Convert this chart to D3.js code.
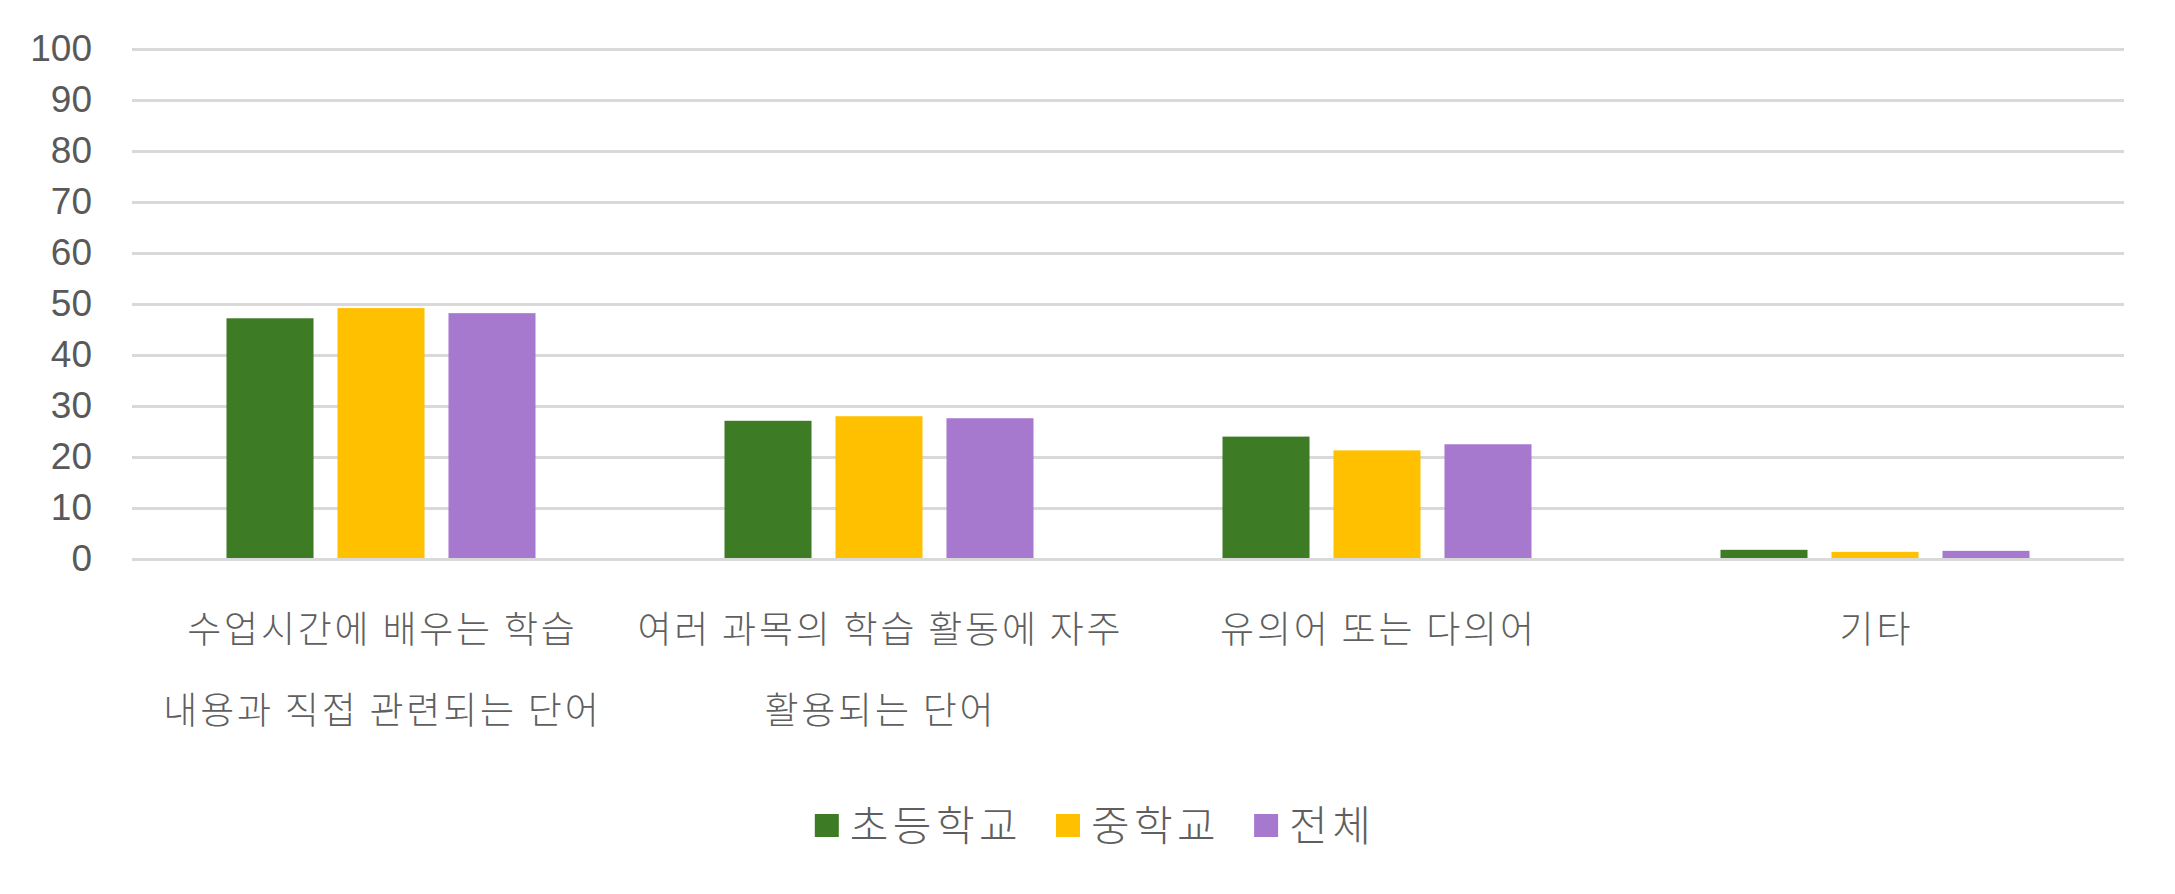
<!DOCTYPE html>
<html>
<head>
<meta charset="utf-8">
<script src="https://cdn.jsdelivr.net/npm/d3@7/dist/d3.min.js"></script>
<style>
  html, body { margin: 0; padding: 0; background: #ffffff; }
  svg { display: block; }
</style>
</head>
<body>
<svg id="chart" width="2175" height="894"></svg>
<script>
// ---- data ----
const categories = [
  "수업시간에 배우는 학습\n내용과 직접 관련되는 단어",
  "여러 과목의 학습 활동에 자주\n활용되는 단어",
  "유의어 또는 다의어",
  "기타"
];
const seriesNames = ["초등학교", "중학교", "전체"];
const elementary = [47.2, 27.1, 24.0, 1.8];
const middle = [49.2, 28.0, 21.3, 1.4];
const total = [48.2, 27.6, 22.5, 1.6];
const yTicks = [0, 10, 20, 30, 40, 50, 60, 70, 80, 90, 100];
const colors = ["#3d7b24", "#ffc000", "#a679cf"];

const seriesValues = [elementary, middle, total];

// ---- layout ----
const svg = d3.select("#chart");
const margin = { left: 132, right: 51, top: 49, bottom: 335 };
const W = 2175, H = 894;
const plotW = W - margin.left - margin.right;
const plotH = H - margin.top - margin.bottom;

const g = svg.append("g").attr("transform", `translate(${margin.left},${margin.top})`);

const x0 = d3.scaleBand().domain(categories).range([0, plotW]).paddingInner(0).paddingOuter(0);
const groupW = 309;
const x1 = d3.scaleBand().domain(seriesNames)
  .range([(x0.bandwidth() - groupW) / 2, (x0.bandwidth() + groupW) / 2])
  .paddingInner(0.216).paddingOuter(0);
const y = d3.scaleLinear().domain([0, 100]).range([plotH, 0]);

// gridlines + y labels
const yAxis = d3.axisLeft(y).tickValues(yTicks).tickSize(-plotW).tickPadding(40);
const ya = g.append("g").call(yAxis);
ya.select(".domain").remove();
ya.selectAll(".tick line").attr("stroke", "#d9d9d9").attr("stroke-width", 3);
ya.selectAll(".tick text")
  .attr("fill", "#595959")
  .style("font-family", "'Liberation Sans', Arial, sans-serif")
  .style("font-size", "37px");

// bars
const groups = g.selectAll(".grp").data(categories).join("g")
  .attr("class", "grp")
  .attr("transform", d => `translate(${x0(d)},0)`);

groups.selectAll("rect")
  .data((d, i) => seriesNames.map((s, j) => ({ s, v: seriesValues[j][i], c: colors[j] })))
  .join("rect")
  .attr("x", d => x1(d.s))
  .attr("width", x1.bandwidth())
  .attr("y", d => y(d.v))
  .attr("height", d => y(0) - y(d.v) - 1)
  .attr("fill", d => d.c);

// category labels
const catFont = "'Noto Sans CJK KR', 'Noto Sans', sans-serif";
const labels = g.selectAll(".cat").data(categories).join("text")
  .attr("class", "cat")
  .attr("text-anchor", "middle")
  .attr("fill", "#5f5f5f")
  .style("font-family", catFont)
  .style("font-size", "37px")
  .style("font-weight", "300")
  .style("letter-spacing", "2.8px")
  .attr("transform", d => `translate(${x0(d) + x0.bandwidth() / 2 + 1.4},0)`);
labels.selectAll("tspan")
  .data(d => d.split("\n"))
  .join("tspan")
  .attr("x", 0)
  .attr("y", (d, i) => plotH + 84 + i * 81)
  .text(d => d);

// legend
const legend = svg.append("g");
let cx = 0;
const legendGap = 34;
seriesNames.forEach((name, i) => {
  const it = legend.append("g");
  it.append("rect").attr("x", 0).attr("y", 814).attr("width", 24).attr("height", 23).attr("fill", colors[i]);
  const t = it.append("text").attr("x", 35).attr("y", 841)
    .attr("fill", "#5f5f5f")
    .style("font-family", catFont)
    .style("font-size", "42px")
    .style("font-weight", "300")
    .style("letter-spacing", "4.4px")
    .text(name);
  const w = 35 + t.node().getComputedTextLength();
  it.attr("transform", `translate(${cx},0)`);
  cx += w + legendGap;
});
const legendW = cx - legendGap;
legend.attr("transform", `translate(${1095 - legendW / 2},0)`);
</script>
</body>
</html>
